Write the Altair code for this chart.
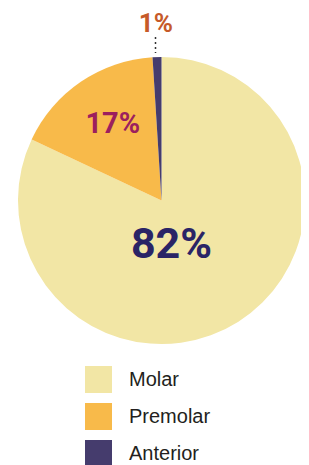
import altair as alt
import pandas as pd

categories = ["Molar", "Premolar", "Anterior"]
shares = [82, 17, 1]
labels = ["82%", "17%", "1%"]
order = [0, 1, 2]

slice_colors = ["#F2E6A5", "#F8BA4A", "#453C6D"]
label_colors = ["#2A2466", "#9C1F5E", "#C65A29"]

df = pd.DataFrame({"category": categories, "share": shares, "label": labels, "order": order})

CX, CY, R = 153.5, 192.5, 143.5

base = alt.Chart(df)

pie = base.mark_arc(radius=R, x=CX, y=CY, strokeWidth=0).encode(
    theta=alt.Theta("share:Q", stack=True, scale=alt.Scale(domain=[0, 100])),
    order=alt.Order("order:Q"),
    color=alt.Color(
        "category:N",
        scale=alt.Scale(domain=categories, range=slice_colors),
        legend=alt.Legend(
            title=None,
            orient="none",
            legendX=77,
            legendY=358,
            symbolType="square",
            symbolSize=729,
            symbolStrokeWidth=0,
            symbolOpacity=1,
            labelFontSize=20,
            labelFont="Liberation Sans",
            labelColor="#231f20",
            labelOffset=17,
            rowPadding=10,
            labelLimit=200,
        ),
    ),
)


def label_layer(idx, radius, size, dx=0, dy=0):
    return (
        base.transform_window(cum="sum(share)", sort=[alt.SortField("order")])
        .transform_calculate(mid="datum.cum - datum.share / 2")
        .transform_filter(alt.datum.category == categories[idx])
        .mark_text(
            x=CX, y=CY, radius=radius, font="Roboto", fontWeight="bold",
            fontSize=size, color=label_colors[idx], dx=dx, dy=dy,
        )
        .encode(
            theta=alt.Theta("mid:Q", stack=False, scale=alt.Scale(domain=[0, 100])),
            text="label:N",
        )
    )


t_molar = label_layer(0, 0, 43, dx=10, dy=44.5)
t_pre = label_layer(1, 92, 29, dx=3)
t_ant = label_layer(2, 178, 26, dy=1)

leader = base.transform_filter(alt.datum.category == "Anterior").mark_rule(
    color="#333333", strokeDash=[2, 3], strokeWidth=1.5
).encode(x=alt.value(147.5), y=alt.value(29), y2=alt.value(45))

chart = (
    alt.layer(pie, t_molar, t_pre, t_ant, leader)
    .properties(width=293, height=457, autosize=alt.AutoSizeParams(type="none"),
                padding=0, background="white")
    .configure_view(strokeWidth=0, stroke="transparent")
)

chart.save("out.html", embed_options={"renderer": "svg", "actions": False})
